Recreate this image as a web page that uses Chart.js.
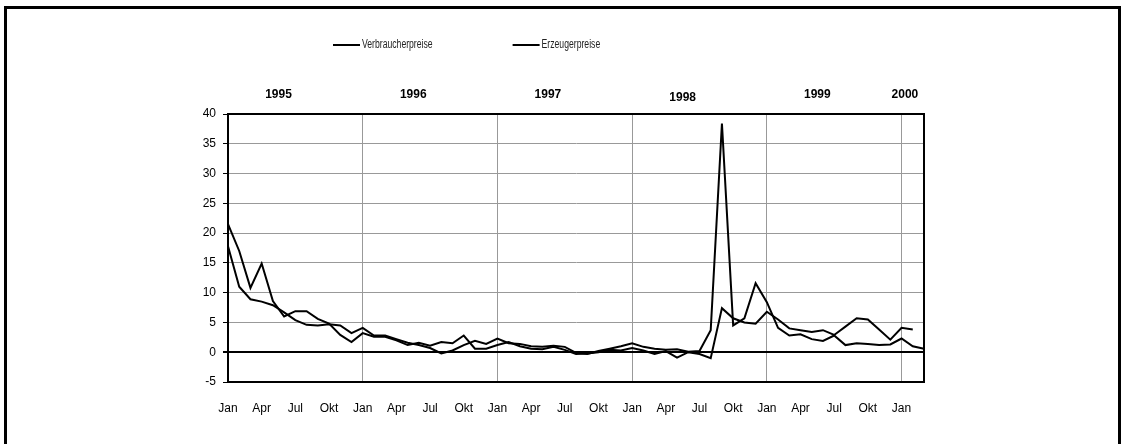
<!DOCTYPE html>
<html>
<head>
<meta charset="utf-8">
<script src="https://cdn.jsdelivr.net/npm/chart.js@4.4.1/dist/chart.umd.min.js"></script>
<style>
  html, body { margin: 0; padding: 0; background: #fff; }
  #wrap { position: relative; width: 1127px; height: 444px; overflow: hidden; }
  #frame { position: absolute; left: 4px; top: 6px; width: 1117px; height: 460px; border: 3px solid #000; box-sizing: border-box; }
  #chart { position: absolute; left: 0; top: 0; }
</style>
</head>
<body>
<div id="wrap">
  <div id="frame"></div>
  <canvas id="chart" width="1127" height="444"></canvas>
</div>
<script>
/* -----------------------------
   DATEN
----------------------------- */
const monatsNamen = ["Jan", "Feb", "Mär", "Apr", "Mai", "Jun", "Jul", "Aug", "Sep", "Okt", "Nov", "Dez"];
const jahre = ["1995", "1996", "1997", "1998", "1999", "2000"];

// Veränderung gegenüber Vormonat in %
const verbraucherpreise = [
    17.8, 11.0, 8.9, 8.5, 7.9, 6.7, 5.4, 4.6, 4.5, 4.7, 4.5, 3.2,
    4.1, 2.8, 2.8, 2.2, 1.6, 1.2, 0.7, -0.2, 0.3, 1.2, 1.9, 1.4,
    2.3, 1.5, 1.4, 1.0, 0.9, 1.1, 0.9, -0.1, -0.3, 0.2, 0.6, 1.0,
    1.5, 0.9, 0.6, 0.4, 0.5, 0.1, 0.2, 3.7, 38.4, 4.5, 5.7, 11.6,
    8.4, 4.1, 2.8, 3.0, 2.2, 1.9, 2.8, 1.2, 1.5, 1.4, 1.2, 1.3,
    2.3, 1.0, 0.6
];
const erzeugerpreise = [
    21.5, 17.0, 10.8, 14.9, 8.6, 6.0, 6.9, 6.9, 5.6, 4.8, 2.9, 1.7,
    3.2, 2.6, 2.6, 2.0, 1.2, 1.6, 1.1, 1.7, 1.5, 2.8, 0.6, 0.6,
    1.2, 1.7, 1.0, 0.6, 0.5, 0.9, 0.4, -0.3, -0.2, 0.0, 0.4, 0.3,
    0.7, 0.3, -0.3, 0.2, -0.9, 0.0, -0.3, -1.0, 7.4, 5.7, 5.0, 4.8,
    6.8, 5.5, 4.0, 3.7, 3.4, 3.7, 2.9, 4.3, 5.7, 5.5, 3.8, 2.1,
    4.1, 3.8
];

const yMin = -5;
const yMax = 40;
const yStep = 5;

const monate = [];
jahre.forEach(j => monatsNamen.forEach(m => monate.push(m)));
const labels = monate.slice(0, verbraucherpreise.length);

const normal = "'Liberation Sans', Arial, sans-serif";

/* -----------------------------
   PLUGINS
----------------------------- */
const rahmenPlugin = {
    id: "rahmen",
    afterDatasetsDraw(chart) {
        const { ctx, chartArea } = chart;
        ctx.save();
        ctx.strokeStyle = "#000";
        ctx.lineWidth = 2;
        ctx.strokeRect(chartArea.left, chartArea.top, chartArea.right - chartArea.left, chartArea.bottom - chartArea.top);
        ctx.restore();
    }
};

const beschriftungPlugin = {
    id: "beschriftung",
    afterDraw(chart) {
        const { ctx } = chart;
        const x = chart.scales.x;
        const letzter = labels.length - 1;

        // Jahreszahlen über der Grafik
        ctx.save();
        ctx.fillStyle = "#000";
        ctx.font = "bold 12px " + normal;
        ctx.textAlign = "center";
        ctx.textBaseline = "middle";
        jahre.forEach((jahr, i) => {
            const pos = Math.min(i * 12 + 4.5, letzter - 1.7);
            const y = jahr === "1998" ? 98 : 95;
            ctx.fillText(jahr, x.getPixelForValue(pos), y);
        });

        // Legende (schmale Schrift, horizontal gestaucht)
        const stauchung = 0.72;
        ctx.font = "12px " + normal;
        ctx.textAlign = "left";
        ctx.lineWidth = 2;
        ctx.strokeStyle = "#000";
        ctx.fillStyle = "#222";
        let lx = 333;
        chart.data.datasets.forEach(ds => {
            ctx.beginPath();
            ctx.moveTo(lx, 45);
            ctx.lineTo(lx + 27, 45);
            ctx.stroke();
            ctx.save();
            ctx.translate(lx + 29, 45);
            ctx.scale(stauchung, 1);
            ctx.fillText(ds.label, 0, 0);
            ctx.restore();
            lx += 29 + ctx.measureText(ds.label).width * stauchung + 80;
        });
        ctx.restore();
    }
};

/* -----------------------------
   GRAFIK
----------------------------- */
new Chart(document.getElementById("chart"), {
    type: "line",
    data: {
        labels: labels,
        datasets: [
            {
                label: "Verbraucherpreise",
                data: verbraucherpreise,
                borderColor: "#000",
                borderWidth: 2,
                pointRadius: 0,
                tension: 0
            },
            {
                label: "Erzeugerpreise",
                data: erzeugerpreise,
                borderColor: "#000",
                borderWidth: 2,
                pointRadius: 0,
                tension: 0
            }
        ]
    },
    options: {
        responsive: false,
        animation: false,
        layout: { padding: { left: 180, right: 203, top: 114, bottom: 22 } },
        plugins: {
            legend: { display: false },
            tooltip: { enabled: false }
        },
        scales: {
            x: {
                offset: false,
                afterFit: (scale) => { scale.height = 40; },
                border: { display: false },
                grid: {
                    color: (c) => c.index % 12 === 0 ? "#999" : "rgba(0,0,0,0)",
                    lineWidth: 1,
                    drawTicks: false
                },
                ticks: {
                    autoSkip: false,
                    maxRotation: 0,
                    minRotation: 0,
                    padding: 19,
                    color: "#000",
                    font: { family: normal, size: 12 },
                    callback: function (v, i) {
                        return i % 3 === 0 ? this.getLabelForValue(v) : "";
                    }
                }
            },
            y: {
                min: yMin,
                max: yMax,
                afterFit: (scale) => { scale.width = 48; },
                border: { display: true, color: "#000", width: 2 },
                grid: {
                    color: (c) => c.tick && c.tick.value === 0 ? "#000" : "#999",
                    lineWidth: (c) => c.tick && c.tick.value === 0 ? 2 : 1,
                    tickColor: "#000",
                    tickLength: 5
                },
                ticks: {
                    stepSize: yStep,
                    padding: 7,
                    color: "#000",
                    font: { family: normal, size: 12 }
                }
            }
        }
    },
    plugins: [rahmenPlugin, beschriftungPlugin]
});
</script>
</body>
</html>
